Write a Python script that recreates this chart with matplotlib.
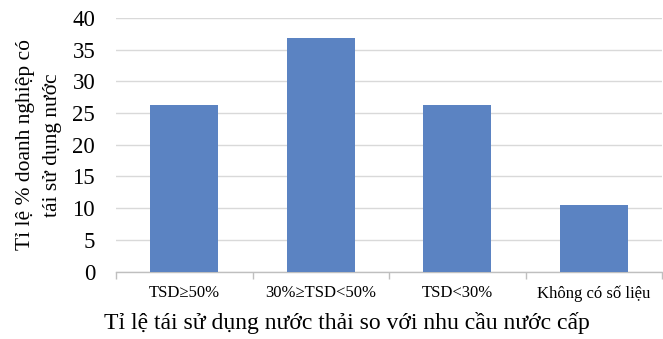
import matplotlib
matplotlib.use("Agg")
import matplotlib.pyplot as plt
import numpy as np

categories = ["TSD≥50%", "30%≥TSD<50%", "TSD<30%", "Không có số liệu"]
values = [26.3, 36.8, 26.3, 10.5]
yticks = [0, 5, 10, 15, 20, 25, 30, 35, 40]

plt.rcParams['font.family'] = ['Liberation Serif', 'DejaVu Serif']

fig = plt.figure(figsize=(6.63, 3.39), dpi=100)
ax = fig.add_axes([116/663, 1-271.5/339, (662-116)/663, (271.5-18)/339])

x = np.arange(len(categories))
ax.bar(x, values, width=0.5, color='#5B83C2', zorder=3)

ax.set_ylim(0, 40)
ax.set_xlim(-0.5, len(categories)-0.5)
ax.set_yticks(yticks)
ax.set_yticklabels([str(v) for v in yticks], fontsize=16.5)
ax.tick_params(axis='y', length=0, pad=15)
ax.grid(axis='y', color='#d9d9d9', linewidth=1.0, zorder=0)
ax.set_axisbelow(True)

ax.set_xticks(x)
ax.set_xticklabels(categories, fontsize=12)
ax.tick_params(axis='x', which='major', length=0, pad=10)
ax.set_xticks(np.arange(-0.5, len(categories), 1.0), minor=True)
ax.tick_params(axis='x', which='minor', length=5, color='#bfbfbf', width=1)

for s in ['top', 'right', 'left']:
    ax.spines[s].set_visible(False)
ax.spines['bottom'].set_color('#bfbfbf')
ax.spines['bottom'].set_linewidth(1)

ax.set_xlabel("Tỉ lệ tái sử dụng nước thải so với nhu cầu nước cấp", fontsize=17)
ax.xaxis.set_label_coords((347-116)/(662-116), -(323-271.5)/(271.5-18), transform=ax.transAxes)
ax.xaxis.label.set_va('center')
ax.set_ylabel("Tỉ lệ % doanh nghiệp có\ntái sử dụng nước", fontsize=15.5, linespacing=1.6)
ax.yaxis.set_label_coords(-(116-39)/(662-116), (271.5-145)/(271.5-18), transform=ax.transAxes)
ax.yaxis.label.set_va('center')

fig.savefig("out.png", dpi=100)
